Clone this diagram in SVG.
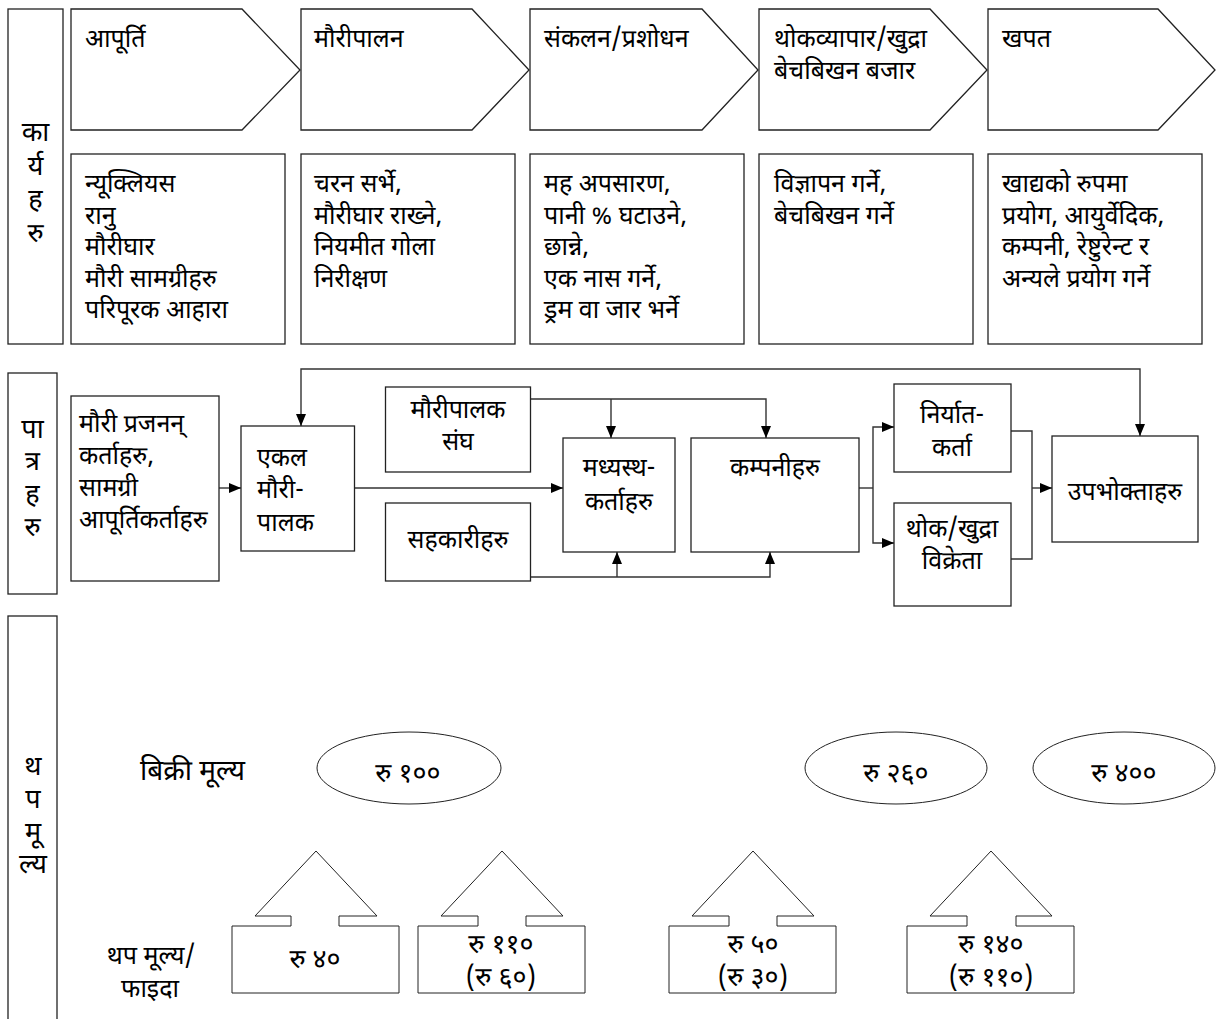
<svg xmlns="http://www.w3.org/2000/svg" width="1224" height="1019" viewBox="0 0 1224 1019">
<defs>
<style>
text{font-family:"Noto Sans Devanagari","Noto Sans","Lohit Devanagari",sans-serif;font-size:25px;fill:#000}
.c{text-anchor:middle}
.v{font-size:27px}
.num{font-size:27px}
.big{font-size:28px}
.mid{font-size:25px}
.shape{fill:#fff;stroke:#222;stroke-width:1.3}
.thin{fill:#fff;stroke:#222;stroke-width:1}
.conn{fill:none;stroke:#333;stroke-width:1.4}
</style>
<marker id="ah" viewBox="0 0 12 10" refX="12" refY="5" markerWidth="12" markerHeight="10" markerUnits="userSpaceOnUse" orient="auto-start-reverse"><path d="M0,0 L12,5 L0,10 z" fill="#000"/></marker>
</defs>
<rect width="1224" height="1019" fill="#fff"/>

<g id="label-karyaharu">
<rect class="shape" x="8" y="9" width="55" height="335"/>
<text class="c v" x="35.5" y="141">का</text>
<text class="c v" x="35.5" y="175">र्य</text>
<text class="c v" x="35.5" y="208">ह</text>
<text class="c v" x="35.5" y="242">रु</text>
</g>

<g id="stage-supply">
<path class="shape" d="M71,9 H242 L300,70 L242,130 H71 Z"/>
<text x="85" y="47">आपूर्ति</text>
</g>
<g id="stage-beekeeping">
<path class="shape" d="M301,9 H472 L529,70 L472,130 H301 Z"/>
<text x="314" y="47">मौरीपालन</text>
</g>
<g id="stage-processing">
<path class="shape" d="M530,9 H702 L758,70 L702,130 H530 Z"/>
<text x="544" y="47">संकलन/प्रशोधन</text>
</g>
<g id="stage-market">
<path class="shape" d="M759,9 H930 L987,70 L930,130 H759 Z"/>
<text x="774" y="47">थोकव्यापार/खुद्रा</text>
<text x="774" y="79">बेचबिखन बजार</text>
</g>
<g id="stage-consumption">
<path class="shape" d="M988,9 H1158 L1215,70 L1158,130 H988 Z"/>
<text x="1002" y="47">खपत</text>
</g>

<g id="act-supply">
<rect class="shape" x="71" y="154" width="214" height="190"/>
<text x="85" y="192">न्यूक्लियस</text>
<text x="85" y="224">रानु</text>
<text x="85" y="255">मौरीघार</text>
<text x="85" y="287">मौरी सामग्रीहरु</text>
<text x="85" y="318">परिपूरक आहारा</text>
</g>
<g id="act-beekeeping">
<rect class="shape" x="301" y="154" width="214" height="190"/>
<text x="314" y="192">चरन सर्भे,</text>
<text x="314" y="224">मौरीघार राख्ने,</text>
<text x="314" y="255">नियमीत गोला</text>
<text x="314" y="287">निरीक्षण</text>
</g>
<g id="act-processing">
<rect class="shape" x="530" y="154" width="214" height="190"/>
<text x="544" y="192">मह अपसारण,</text>
<text x="544" y="224">पानी % घटाउने,</text>
<text x="544" y="255">छान्ने,</text>
<text x="544" y="287">एक नास गर्ने,</text>
<text x="544" y="318">ड्रम वा जार भर्ने</text>
</g>
<g id="act-market">
<rect class="shape" x="759" y="154" width="214" height="190"/>
<text x="774" y="192">विज्ञापन गर्ने,</text>
<text x="774" y="224">बेचबिखन गर्ने</text>
</g>
<g id="act-consumption">
<rect class="shape" x="988" y="154" width="214" height="190"/>
<text x="1002" y="192">खाद्यको रुपमा</text>
<text x="1002" y="224">प्रयोग, आयुर्वेदिक,</text>
<text x="1002" y="255">कम्पनी, रेष्टुरेन्ट र</text>
<text x="1002" y="287">अन्यले प्रयोग गर्ने</text>
</g>

<g id="label-patraharu">
<rect class="shape" x="8" y="373" width="49" height="221"/>
<text class="c v" x="32.5" y="438">पा</text>
<text class="c v" x="32.5" y="470">त्र</text>
<text class="c v" x="32.5" y="503">ह</text>
<text class="c v" x="32.5" y="536">रु</text>
</g>

<g id="connectors">
<path class="conn" d="M219,488 H241" marker-end="url(#ah)"/>
<path class="conn" d="M354.5,488 H563" marker-end="url(#ah)"/>
<path class="conn" d="M1140,436 V369 H301 V426" marker-start="url(#ah)" marker-end="url(#ah)"/>
<path class="conn" d="M530.5,399 H766 V438" marker-end="url(#ah)"/>
<path class="conn" d="M611,399 V438" marker-end="url(#ah)"/>
<path class="conn" d="M530.5,577 H770 V552" marker-end="url(#ah)"/>
<path class="conn" d="M617,577 V552" marker-end="url(#ah)"/>
<path class="conn" d="M859,488 H873"/>
<path class="conn" d="M894,427 H873 V543 H894" marker-start="url(#ah)" marker-end="url(#ah)"/>
<path class="conn" d="M1011,431 H1032 V559 H1011"/>
<path class="conn" d="M1032,488 H1052" marker-end="url(#ah)"/>
</g>

<g id="actor-suppliers">
<rect class="shape" x="71" y="396" width="148" height="185"/>
<text x="79" y="432">मौरी प्रजनन्</text>
<text x="79" y="464">कर्ताहरु,</text>
<text x="79" y="496">सामग्री</text>
<text x="79" y="528">आपूर्तिकर्ताहरु</text>
</g>
<g id="actor-beekeeper">
<rect class="shape" x="241" y="426" width="113.5" height="125"/>
<text x="257" y="466">एकल</text>
<text x="257" y="498">मौरी-</text>
<text x="257" y="531">पालक</text>
</g>
<g id="actor-association">
<rect class="shape" x="385.5" y="387" width="145" height="85"/>
<text class="c" x="458" y="418">मौरीपालक</text>
<text class="c" x="458" y="450">संघ</text>
</g>
<g id="actor-cooperatives">
<rect class="shape" x="385.5" y="503" width="145" height="78"/>
<text class="c" x="458" y="548">सहकारीहरु</text>
</g>
<g id="actor-middlemen">
<rect class="shape" x="563" y="438" width="112" height="114"/>
<text class="c" x="619" y="476">मध्यस्थ-</text>
<text class="c" x="619" y="510">कर्ताहरु</text>
</g>
<g id="actor-companies">
<rect class="shape" x="691" y="438" width="168" height="114"/>
<text class="c" x="775" y="476">कम्पनीहरु</text>
</g>
<g id="actor-exporter">
<rect class="shape" x="894" y="384" width="117" height="88"/>
<text class="c" x="952" y="423">निर्यात-</text>
<text class="c" x="952" y="456">कर्ता</text>
</g>
<g id="actor-retailer">
<rect class="shape" x="894" y="503" width="117" height="103"/>
<text class="c" x="952" y="537">थोक/खुद्रा</text>
<text class="c" x="952" y="569">विक्रेता</text>
</g>
<g id="actor-consumers">
<rect class="shape" x="1052" y="436" width="146" height="106"/>
<text class="c" x="1125" y="500">उपभोक्ताहरु</text>
</g>

<g id="label-thapmulya">
<rect class="shape" x="8" y="616" width="49" height="420"/>
<text class="c v" x="33" y="775">थ</text>
<text class="c v" x="33" y="808">प</text>
<text class="c v" x="33" y="841">मू</text>
<text class="c v" x="33" y="873">ल्य</text>
</g>

<g id="label-price">
<text class="big" x="140" y="780">बिक्री मूल्य</text>
</g>
<g id="price-100">
<ellipse class="thin" cx="409" cy="768" rx="92" ry="36"/>
<text class="c num" x="408" y="782">रु १००</text>
</g>
<g id="price-260">
<ellipse class="thin" cx="896" cy="768" rx="91" ry="36"/>
<text class="c num" x="896" y="782">रु २६०</text>
</g>
<g id="price-400">
<ellipse class="thin" cx="1124" cy="768" rx="91" ry="36"/>
<text class="c num" x="1124" y="782">रु ४००</text>
</g>

<g id="label-value-added">
<text class="c mid" x="151" y="964">थप मूल्य/</text>
<text class="c mid" x="150" y="997">फाइदा</text>
</g>
<g id="va-40">
<path class="thin" d="M232,926 H291 V916 H255 L316,851 L377,916 H339 V926 H399 V993 H232 Z"/>
<text class="c num" x="315" y="968">रु ४०</text>
</g>
<g id="va-110">
<path class="thin" d="M418,926 H478 V916 H441 L502,851 L563,916 H526 V926 H585 V993 H418 Z"/>
<text class="c num" x="501" y="953">रु ११०</text>
<text class="c num" x="501" y="986">(रु ६०)</text>
</g>
<g id="va-50">
<path class="thin" d="M669,926 H729 V916 H692 L753,851 L814,916 H777 V926 H836 V993 H669 Z"/>
<text class="c num" x="753" y="953">रु ५०</text>
<text class="c num" x="753" y="986">(रु ३०)</text>
</g>
<g id="va-140">
<path class="thin" d="M907,926 H967 V916 H930 L991,851 L1052,916 H1016 V926 H1074 V993 H907 Z"/>
<text class="c num" x="991" y="953">रु १४०</text>
<text class="c num" x="991" y="986">(रु ११०)</text>
</g>
</svg>
